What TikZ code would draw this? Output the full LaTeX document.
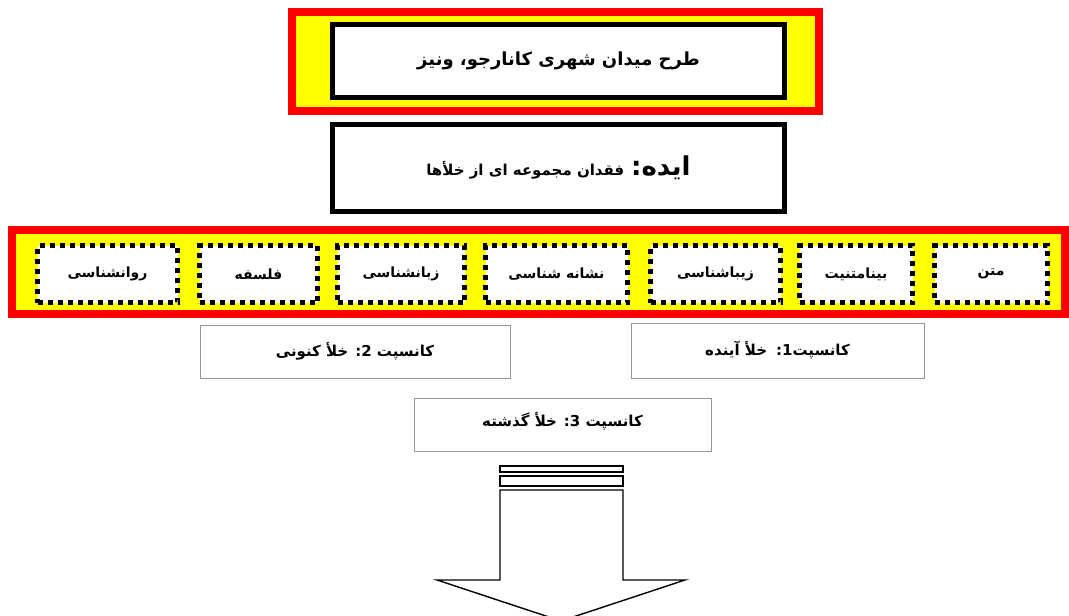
\documentclass[tikz,border=0pt]{standalone}
\usepackage{fontspec}
\newfontfamily\fa[Script=Arabic]{DejaVu Sans}
\TeXXeTstate=1
\definecolor{bandred}{RGB}{255,0,0}
\definecolor{bandyellow}{RGB}{255,255,0}
\definecolor{thingray}{RGB}{150,150,150}
\begin{document}
\begin{tikzpicture}[x=1pt,y=-1pt,
  redframe/.style={draw=bandred,line width=8pt,fill=bandyellow,rectangle,inner sep=0pt},
  blackbox/.style={draw=black,line width=5pt,fill=white,rectangle,inner sep=0pt,font=\fa\bfseries\fontsize{18}{22}\selectfont},
  dotbox/.style={draw=black,line width=5pt,dash pattern=on 5pt off 5pt,fill=white,rectangle,inner sep=0pt,minimum height=57pt,font=\fa\bfseries\fontsize{14}{17}\selectfont},
  conceptbox/.style={draw=thingray,line width=1pt,fill=white,rectangle,inner sep=0pt,font=\fa\bfseries\fontsize{15}{18}\selectfont},
  arrowline/.style={draw=black,line width=1.4pt,line join=miter}
]
\useasboundingbox (0,0) rectangle (1069,616);
% top title
\node[redframe,minimum width=527pt,minimum height=99pt] (topframe) at (555.5,61.5) {};
\node[blackbox,minimum width=452pt,minimum height=73pt] (title) at (558.5,61) {\beginR طرح میدان شهری کانارجو، ونیز\endR};
% idea
\node[blackbox,minimum width=452pt,minimum height=87pt,font=\fa\bfseries\fontsize{15}{18}\selectfont] (idea) at (558.5,168) {\beginR{\fontsize{26}{30}\selectfont ایده:} فقدان مجموعه ای از خلأها\endR};
% band
\node[redframe,minimum width=1053pt,minimum height=84pt] (band) at (538.5,272) {};
\node[dotbox,minimum width=140pt] (ravan) at (107.5,274) {\beginR روانشناسی\endR};
\node[dotbox,minimum width=118pt] (falsafe) at (258.5,274) {\beginR فلسفه\endR};
\node[dotbox,minimum width=127pt] (zaban) at (401,274) {\beginR زبانشناسی\endR};
\node[dotbox,minimum width=142pt] (neshane) at (556.5,274) {\beginR نشانه شناسی\endR};
\node[dotbox,minimum width=130pt] (ziba) at (715.5,274) {\beginR زیباشناسی\endR};
\node[dotbox,minimum width=113pt] (beyna) at (856,274) {\beginR بینامتنیت\endR};
\node[dotbox,minimum width=113pt] (matn) at (991,274) {\beginR متن\endR};
% concepts
\node[conceptbox,minimum width=310pt,minimum height=53pt] (c2) at (355,351.5) {\beginR کانسپت 2: خلأ کنونی\endR};
\node[conceptbox,minimum width=293pt,minimum height=55pt] (c1) at (777.5,350.5) {\beginR کانسپت1:\hspace{0.6em}خلأ آینده\endR};
\node[conceptbox,minimum width=297pt,minimum height=53pt,text depth=10pt] (c3) at (562.5,424.5) {\beginR کانسپت 3: خلأ گذشته\endR};
% arrow
\draw[arrowline] (500,466) rectangle (623,472);
\draw[arrowline] (500,476) rectangle (623,486);
\draw[arrowline] (500,490) -- (623,490) -- (623,580) -- (685,580) -- (561,621) -- (437,580) -- (500,580) -- cycle;
\end{tikzpicture}
\end{document}
